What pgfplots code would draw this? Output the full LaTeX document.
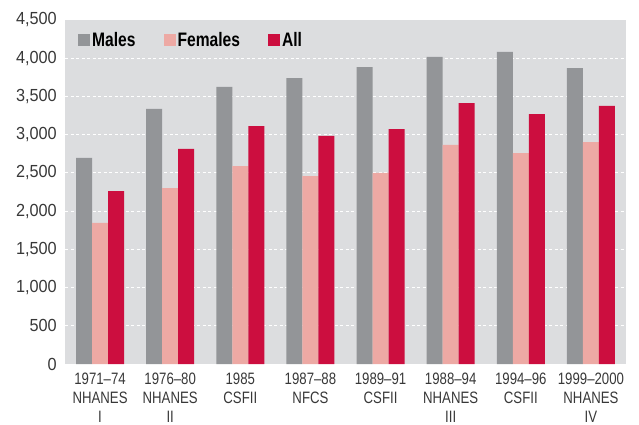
\documentclass[border=0pt]{standalone}
\usepackage{fontspec}
\setmainfont{Liberation Sans}[FakeStretch=0.8]
\newfontfamily\tickfont{Liberation Sans}[FakeStretch=0.93]
\usepackage{pgfplots}
\pgfplotsset{compat=1.18}
\definecolor{males}{HTML}{939598}
\definecolor{females}{HTML}{EDA9A4}
\definecolor{allc}{HTML}{CC0E3F}
\definecolor{panel}{HTML}{DCDDDF}
\definecolor{ticktxt}{HTML}{383838}

\begin{document}
\begin{tikzpicture}
\useasboundingbox (-65pt,-61pt) rectangle (574pt,364pt);
\begin{axis}[
  at={(0pt,0pt)}, anchor=south west,
  scale only axis, width=561pt, height=344pt,
  ybar=0pt, bar width=16pt,
  xmin=-0.5, xmax=7.5, ymin=0, ymax=4500,
  axis background/.style={fill=panel},
  axis line style={draw=none},
  major tick length=0pt,
  xtick={0,...,7},
  xticklabels={{1971--74\\NHANES\\I},{1976--80\\NHANES\\II},{1985\\CSFII},
    {1987--88\\NFCS},{1989--91\\CSFII},{1988--94\\NHANES\\III},
    {1994--96\\CSFII},{1999--2000\\NHANES\\IV}},
  xticklabel style={align=center, font=\fontsize{16.5}{19}\selectfont,
    text=ticktxt, inner sep=0pt, anchor=north, yshift=-8.5pt},
  ytick={0,500,...,4500},
  yticklabel style={font=\tickfont\fontsize{17.5}{20}\selectfont,
    text=ticktxt, inner sep=0pt, anchor=east, xshift=-8pt},
  /pgf/number format/assume math mode=true,
  /pgf/number format/1000 sep={,},
  extra y ticks={500,1000,...,4000},
  extra y tick labels={},
  extra y tick style={grid=major},
  grid style={white, line width=1.2pt, dash pattern=on 3pt off 2.5pt},
  legend columns=-1,
  legend style={draw=none, fill=none, at={(0.0232,0.942)}, anchor=west,
    inner sep=0pt, font=\bfseries\fontsize{19.5}{22}\selectfont,
    /tikz/every even column/.append style={column sep=26pt}},
  legend image code/.code={\fill[#1] (0pt,-6.5pt) rectangle (12pt,5.5pt);},
]
\addplot[fill=males, draw=none] coordinates {
 (0,2695) (1,3336) (2,3624) (3,3741) (4,3885) (5,4016) (6,4082) (7,3872)};
\addplot[fill=females, draw=none] coordinates {
 (0,1845) (1,2302) (2,2590) (3,2459) (4,2499) (5,2865) (6,2760) (7,2904)};
\addplot[fill=allc, draw=none] coordinates {
 (0,2263) (1,2813) (2,3113) (3,2983) (4,3074) (5,3414) (6,3270) (7,3375)};
\legend{Males,Females,All}
\end{axis}
\end{tikzpicture}
\end{document}
